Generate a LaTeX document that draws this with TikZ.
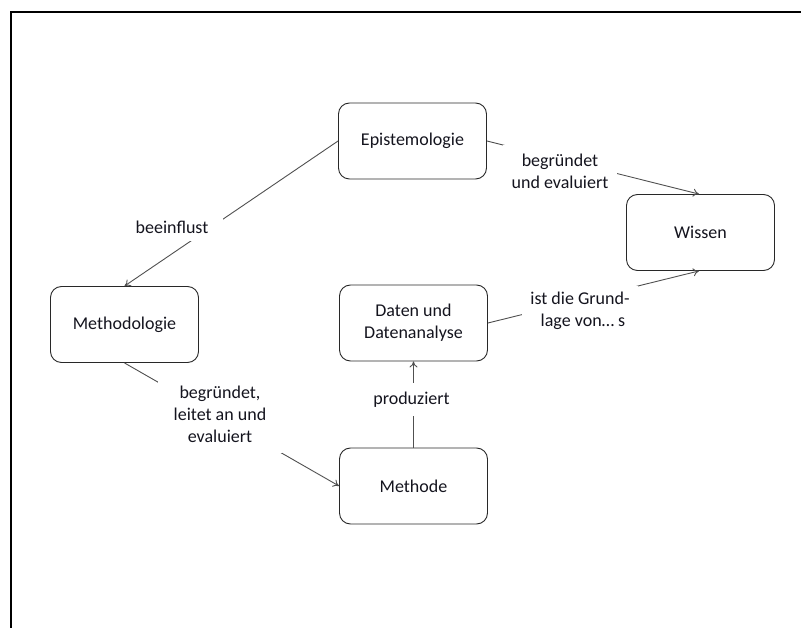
\documentclass[tikz,border=0pt]{standalone}
\usepackage{fontspec}
\setmainfont{Carlito}
\usetikzlibrary{arrows.meta}
\definecolor{linegray}{RGB}{80,80,80}
\definecolor{boxgray}{RGB}{40,40,40}
\definecolor{txt}{RGB}{20,20,30}
\begin{document}
\begin{tikzpicture}[x=1pt,y=-1pt,
  conbox/.style={draw=boxgray,line width=0.9pt,rounded corners=11pt,minimum width=148pt,minimum height=76pt,inner sep=0pt,align=center,text=txt,font=\fontsize{18}{22}\selectfont},
  conn/.style={draw=linegray,line width=0.9pt,-{To[length=6pt,width=8pt]}},
  lab/.style={fill=white,inner sep=0pt,align=center,text=txt,font=\fontsize{18}{22}\selectfont}]
\useasboundingbox (0,0) rectangle (801,628);
% frame
\draw[line width=2pt,black] (801,12.5) -- (10.5,12.5) -- (10.5,628);
% boxes
\node[conbox] (epi) at (412.5,141) {Epistemologie};
\node[conbox] (mtg) at (124.5,324.5) {Methodologie};
\node[conbox] (dat) at (413.5,323) {Daten und\\Datenanalyse};
\node[conbox] (mde) at (413.5,486) {Methode};
\node[conbox] (wis) at (700.5,232.5) {Wissen};
% connectors
\draw[conn] (epi.west) -- (mtg.north);
\draw[conn] (epi.east) -- ([xshift=-1.5pt]wis.north);
\draw[conn] (dat.east) -- ([xshift=-1.5pt]wis.south);
\draw[conn] (mtg.south) -- (mde.west);
\draw[conn] (mde.north) -- (dat.south);
% labels
\node[lab,minimum width=102pt,minimum height=28pt] (l1) at (172,227) {beeinflust};
\node[lab,minimum width=114pt,minimum height=52pt] (l2) at (560,171) {begründet\\und evaluiert};
\node[lab,minimum width=116pt,minimum height=50pt] (l3) at (580,311) {ist die Grund-\\\hspace*{6pt}lage von… s};
\node[lab,minimum width=124pt,minimum height=78pt] (l4) at (220,414) {begründet,\\leitet an und\\evaluiert};
\node[lab,minimum width=86pt,minimum height=33pt] (l5) at (411.5,399.5) {produziert};
\end{tikzpicture}
\end{document}
